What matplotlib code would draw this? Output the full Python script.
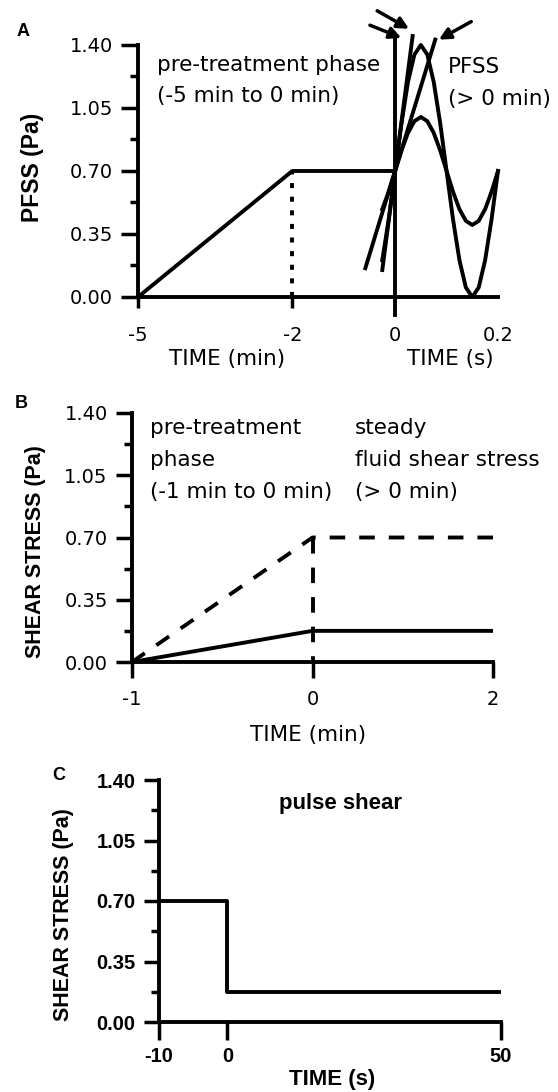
import numpy as np
import matplotlib
matplotlib.use("Agg")
import matplotlib.pyplot as plt

plt.rcParams["axes.unicode_minus"] = False
plt.rcParams["font.family"] = ["DejaVu Sans"]

# shared y axis (Pa)
yticks = [0.00, 0.35, 0.70, 1.05, 1.40]
ytick_labels = ["0.00", "0.35", "0.70", "1.05", "1.40"]
minor_yticks = [0.175, 0.525, 0.875, 1.225]

# panel A: pre-treatment ramp (minutes)
a_pre_time = [-5, -2, 0]
a_pre_pfss = [0.00, 0.70, 0.70]
a_marker_time = [-2, -2]
a_marker_pfss = [0.00, 0.70]

# panel A: pulsatile shear (seconds)
a_pfss_time = [-0.025, -0.0125, 0.0, 0.0125, 0.025, 0.0375, 0.05, 0.0625, 0.075,
               0.0875, 0.1, 0.1125, 0.125, 0.1375, 0.15, 0.1625, 0.175, 0.1875, 0.2]
a_pfss_high = [0.205, 0.432, 0.70, 0.968, 1.195, 1.347, 1.40, 1.347, 1.195,
               0.968, 0.70, 0.432, 0.205, 0.053, 0.00, 0.053, 0.205, 0.432, 0.70]
a_pfss_low = [0.488, 0.585, 0.70, 0.815, 0.912, 0.977, 1.00, 0.977, 0.912,
              0.815, 0.70, 0.585, 0.488, 0.423, 0.40, 0.423, 0.488, 0.585, 0.70]
a_slope_high_time = [-0.025, 0.034]
a_slope_high_pfss = [0.15, 1.45]
a_slope_low_time = [-0.058, 0.078]
a_slope_low_pfss = [0.16, 1.43]
a_arrow_tail = [(-0.049, 1.51), (-0.035, 1.59), (0.148, 1.53)]
a_arrow_tip = [(0.012, 1.44), (0.027, 1.49), (0.085, 1.43)]

# panel B (minutes)
b_time = [-1, 0, 2]
b_low = [0.00, 0.175, 0.175]
b_high = [0.00, 0.70, 0.70]
b_jump_time = [0, 0]
b_jump = [0.70, 0.0]

# panel C (seconds)
c_time = [-10, 0, 0, 50]
c_shear = [0.70, 0.70, 0.175, 0.175]

W, H = 558, 1092
LW = 2.8


def rect(left, right, top, bottom):
    return [left / W, 1 - bottom / H, (right - left) / W, (bottom - top) / H]


def fx(px):
    return px / W


def fy(py):
    return 1 - py / H


def seg_scale(k):
    # time after 0 drawn on a compressed segment
    fwd = lambda x: np.where(x < 0, x, x * k)
    inv = lambda x: np.where(x < 0, x, x / k)
    return fwd, inv


def style_y(ax, major_len, label_font):
    for s in ["top", "right"]:
        ax.spines[s].set_visible(False)
    for s in ["left", "bottom"]:
        ax.spines[s].set_linewidth(LW)
    ax.set_ylim(0, 1.4)
    ax.set_yticks(yticks)
    ax.set_yticklabels(ytick_labels, **label_font)
    ax.set_yticks(minor_yticks, minor=True)
    ax.tick_params(axis="y", which="major", length=major_len, width=2.5, pad=6)
    ax.tick_params(axis="y", which="minor", length=6, width=2.5)


fig = plt.figure(figsize=(W / 100, H / 100), dpi=100)

reg = dict(family="DejaVu Sans", fontsize=14)
bold = dict(family="Liberation Sans", fontsize=14.5, fontweight="bold")
txt = dict(family="DejaVu Sans", fontsize=15.5, va="center", ha="left")
xlab = dict(family="DejaVu Sans", fontsize=15.5, ha="center", va="center")
panel = dict(family="Liberation Sans", fontsize=13, fontweight="bold",
             ha="center", va="center")

# ---------------- panel A ----------------
ax_a = fig.add_axes(rect(138, 498, 45, 297))
style_y(ax_a, 12, reg)
ax_a.set_xlim(-5, 2)
ax_a.set_xticks([-5, -2])
ax_a.set_xticklabels(["-5", "-2"], **reg)
ax_a.tick_params(axis="x", length=8, width=2.5, pad=13)
ax_a.xaxis.get_major_ticks()[1].tick1line.set_visible(False)
ax_a.plot(a_pre_time, a_pre_pfss, color="black", lw=LW, solid_capstyle="butt")
ax_a.plot(a_marker_time, a_marker_pfss, color="black", lw=LW,
          linestyle=(0, (1.3, 2.2)))

ax_s = ax_a.twiny()
ax_s.set_xlim(-0.5, 0.2)
ax_s.set_ylim(0, 1.4)
ax_s.patch.set_visible(False)
for s in ax_s.spines.values():
    s.set_visible(False)
ax_s.xaxis.set_ticks_position("bottom")
ax_s.set_xticks([0, 0.2])
ax_s.set_xticklabels(["0", "0.2"], **reg)
ax_s.tick_params(axis="x", length=0, pad=21)
ax_s.axvline(0, ymin=-0.07, ymax=1.03, color="black", lw=LW, clip_on=False)
ax_s.plot(a_pfss_time, a_pfss_high, color="black", lw=LW, clip_on=False)
ax_s.plot(a_pfss_time, a_pfss_low, color="black", lw=LW, clip_on=False)
ax_s.plot(a_slope_high_time, a_slope_high_pfss, color="black", lw=LW, clip_on=False)
ax_s.plot(a_slope_low_time, a_slope_low_pfss, color="black", lw=LW, clip_on=False)
for tail, tip in zip(a_arrow_tail, a_arrow_tip):
    ax_s.annotate("", xy=tip, xytext=tail, annotation_clip=False,
                  arrowprops=dict(arrowstyle="-|>", color="black", lw=2.5,
                                  mutation_scale=17, shrinkA=0, shrinkB=0))

fig.text(fx(157), fy(65), "pre-treatment phase", **txt)
fig.text(fx(157), fy(96), "(-5 min to 0 min)", **txt)
fig.text(fx(448), fy(67), "PFSS", **txt)
fig.text(fx(448), fy(99), "(> 0 min)", **txt)
fig.text(fx(227), fy(359), "TIME (min)", **xlab)
fig.text(fx(450), fy(359), "TIME (s)", **xlab)
fig.text(fx(33), fy(167), "PFSS (Pa)", family="Liberation Sans", fontsize=16.5,
         fontweight="bold", rotation=90, ha="center", va="center")
fig.text(fx(23), fy(32), "A", **panel)

# ---------------- panel B ----------------
ax_b = fig.add_axes(rect(132, 493, 413, 662))
ax_b.set_xscale("function", functions=seg_scale(0.5))
ax_b.set_xlim(-1, 2)
style_y(ax_b, 11.5, reg)
ax_b.set_xticks([-1, 0, 2])
ax_b.set_xticklabels(["-1", "0", "2"], **reg)
ax_b.tick_params(axis="x", length=11.5, width=2.5, pad=9)
ax_b.minorticks_off()
ax_b.set_yticks(minor_yticks, minor=True)
ax_b.tick_params(axis="y", which="minor", length=6, width=2.5)
ax_b.plot(b_time, b_low, color="black", lw=LW)
ax_b.plot(b_time, b_high, color="black", lw=LW, linestyle=(0, (4, 3.6)))
ax_b.plot(b_jump_time, b_jump, color="black", lw=LW, linestyle=(0, (4, 3.6)))

fig.text(fx(150), fy(428), "pre-treatment", **txt)
fig.text(fx(150), fy(460), "phase", **txt)
fig.text(fx(150), fy(492), "(-1 min to 0 min)", **txt)
fig.text(fx(355), fy(428), "steady", **txt)
fig.text(fx(355), fy(460), "fluid shear stress", **txt)
fig.text(fx(355), fy(492), "(> 0 min)", **txt)
fig.text(fx(308), fy(735), "TIME (min)", **xlab)
fig.text(fx(36), fy(552), "SHEAR STRESS (Pa)", family="Liberation Sans",
         fontsize=15.5, fontweight="bold", rotation=90, ha="center", va="center")
fig.text(fx(21), fy(403), "B", **panel)

# ---------------- panel C ----------------
ax_c = fig.add_axes(rect(159, 501, 780, 1022))
ax_c.set_xscale("function", functions=seg_scale(0.8))
ax_c.set_xlim(-10, 50)
style_y(ax_c, 11, bold)
ax_c.set_xticks([-10, 0, 50])
ax_c.set_xticklabels(["-10", "0", "50"], **bold)
ax_c.tick_params(axis="x", length=13, width=2.5, pad=5)
ax_c.minorticks_off()
ax_c.set_yticks(minor_yticks, minor=True)
ax_c.tick_params(axis="y", which="minor", length=6, width=2.5)
ax_c.plot(c_time, c_shear, color="black", lw=LW)

fig.text(fx(279), fy(803), "pulse shear", family="Liberation Sans", fontsize=16,
         fontweight="bold", ha="left", va="center")
fig.text(fx(332), fy(1080), "TIME (s)", family="Liberation Sans", fontsize=16,
         fontweight="bold", ha="center", va="center")
fig.text(fx(64), fy(915), "SHEAR STRESS (Pa)", family="Liberation Sans",
         fontsize=15.5, fontweight="bold", rotation=90, ha="center", va="center")
fig.text(fx(59), fy(775), "C", **panel)

fig.savefig("out.png", dpi=100)
